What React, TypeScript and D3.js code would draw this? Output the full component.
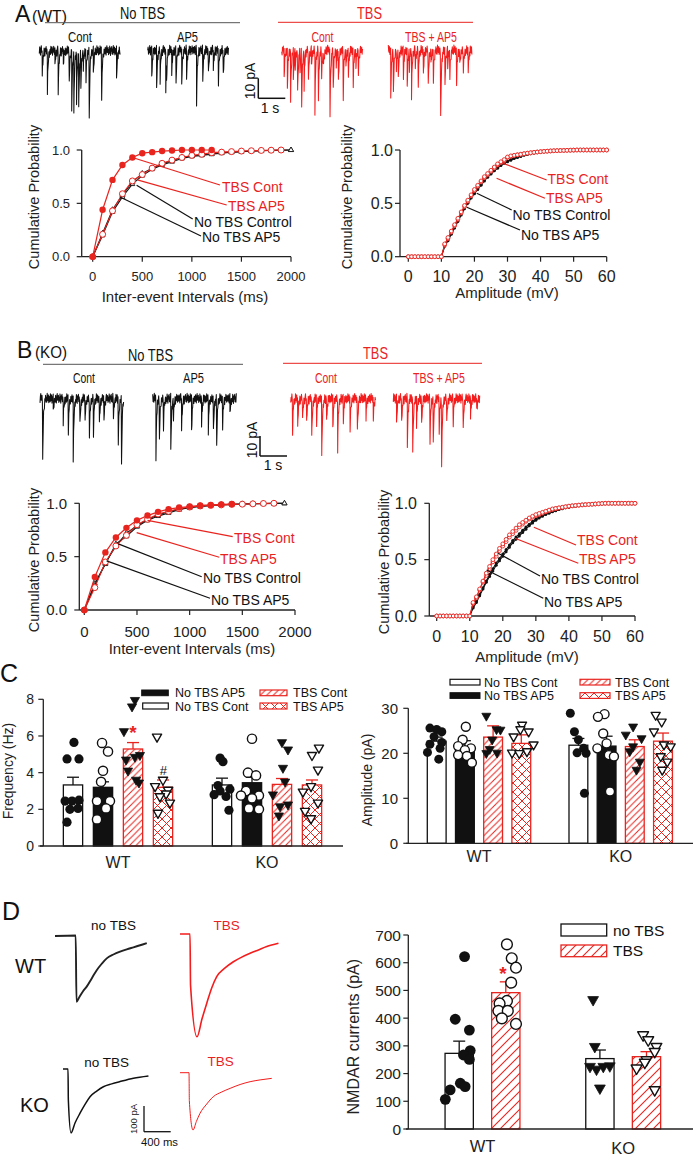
import React from 'react';
import * as d3 from 'd3';

const FONT = '"Liberation Sans", Arial, Helvetica, sans-serif';
const RED = '#e8241f';
const TRACE_RED = '#f41c1c';
const BLACK = '#111111';
const GRAY = '#555555';

// ================= DATA =================
// Spontaneous current traces: events [time (s), amplitude (pA)]
const traceA_NoTbsCont = [[0.11,12.5],[0.30,20],[0.58,8],[0.70,21],[0.89,7.5],[1.11,16],[1.20,30],[1.28,31],[1.38,25],[1.46,29],[1.54,17],[1.63,8],[1.73,15],[1.85,33],[2.00,13],[2.31,22.5],[2.86,16]];
const traceA_NoTbsAP5 = [[0.15,15],[0.33,21],[0.46,15],[0.67,20],[0.70,8],[0.89,13],[1.05,16],[1.26,17.5],[1.44,14],[1.81,27],[2.04,15],[2.25,12.5],[2.43,10],[2.62,16],[2.80,13]];
const traceA_TbsCont = [[0.09,14],[0.21,20],[0.33,25],[0.43,16],[0.50,8],[0.59,22],[0.68,9],[0.74,27],[0.83,18],[0.99,16],[1.10,9],[1.23,30],[1.36,24],[1.48,14],[1.55,8],[1.79,32],[1.91,19],[2.02,9],[2.10,16],[2.28,23],[2.38,8],[2.47,13],[2.65,17],[2.75,8],[2.84,11]];
const traceA_TbsAP5 = [[0.09,25],[0.19,21],[0.30,9],[0.37,15],[0.56,13],[0.70,19],[0.78,8],[0.86,22.5],[1.00,9],[1.11,16],[1.30,12.5],[1.48,18],[1.58,8],[1.67,15],[1.94,35],[2.10,17.5],[2.20,8],[2.28,13],[2.53,16],[2.65,8],[2.78,12.5],[2.96,11]];
const traceB_NoTbsCont = [[0.10,31],[0.49,7.5],[0.86,11.7],[1.05,16],[1.23,33],[1.48,14],[1.67,11.7],[1.83,21],[1.98,17],[2.20,14],[2.37,11],[2.72,9],[2.90,22.5],[3.02,32]];
const traceB_NoTbsAP5 = [[0.12,29],[0.25,21],[0.40,14],[0.67,28],[0.77,9],[1.07,16],[1.44,17.5],[1.81,14],[2.06,16],[2.25,17.5],[2.37,22.5],[2.59,14],[2.86,9]];
const traceB_TbsCont = [[0.07,16],[0.26,15],[0.44,11],[0.59,12.5],[0.78,21],[0.96,11.7],[1.15,31],[1.33,12.5],[1.56,16],[1.74,25],[1.95,11],[2.20,16],[2.47,17.5],[2.79,9],[3.06,10]];
const traceB_TbsAP5 = [[0.12,14],[0.31,12.5],[0.52,24],[0.72,29],[0.86,16],[1.05,14],[1.36,21],[1.48,24],[1.70,16],[1.79,34],[1.98,12.5],[2.22,11.7],[2.59,16],[2.86,10],[3.09,6.7]];
const traceNoise = [1.5,-1.8,0.6,2.3,-1.1,-2.4,1.0,0.2,-1.5,2.1,-0.5,1.4,-2.2,0.8,2.5,-1.3,0.4,-2.0,1.7,-0.7,2.0,-2.5,0.6,1.2,-1.7,2.2,-0.3,-1.0,1.8,-2.3,1.3,0.1,-1.8,2.4,-0.8,0.9,-2.1,0.5,2.0,-1.4,-0.2];

// Cumulative probability: inter-event intervals (ms)
const intervalBins = [0,100,200,300,400,500,600,700,800,900,1000,1100,1200,1300,1400,1500,1600,1700,1800,1900,2000];
const intervalTicks = [0,500,1000,1500,2000];
const probTicks = [0,0.5,1];
const wtInt_TbsCont = [0,0.44,0.72,0.86,0.93,0.97,0.98,0.99,0.995,1,1,1,1];
const wtInt_TbsAP5 = [0,0.21,0.43,0.59,0.71,0.77,0.83,0.875,0.905,0.93,0.95,0.96,0.975,0.98,0.985,0.99,0.993,0.996,0.998,1.0];
const wtInt_NoTbsCtrl = [0,0.2,0.42,0.56,0.68,0.76,0.82,0.86,0.89,0.92,0.94,0.95,0.96,0.97,0.98,0.985,0.99,0.993,0.996,0.998,1.0];
const wtInt_NoTbsAP5 = [0,0.22,0.44,0.58,0.7,0.78,0.83,0.87,0.9,0.93,0.945,0.955,0.965,0.975,0.98,0.985,0.99,0.994,0.997,0.999,1.0];
const koInt_TbsCont = [0,0.31,0.54,0.68,0.77,0.84,0.885,0.92,0.945,0.96,0.97,0.98,0.985,0.99,0.993];
const koInt_TbsAP5 = [0,0.21,0.45,0.6,0.7,0.8,0.85,0.9,0.925,0.95,0.965,0.975,0.98,0.985,0.99,0.992,0.995,0.998,1.0];
const koInt_NoTbsCtrl = [0,0.25,0.43,0.62,0.69,0.78,0.84,0.88,0.91,0.94,0.96,0.97,0.98,0.985,0.99,0.993,0.995,0.997,0.999,1.0];
const koInt_NoTbsAP5 = [0,0.23,0.44,0.6,0.72,0.79,0.85,0.89,0.92,0.945,0.96,0.972,0.98,0.986,0.99,0.994,0.996,0.998,0.999,1.0];

// Cumulative probability: amplitude (mV), one value per 1 mV bin
const ampBins = d3.range(0, 61);
const ampTicks = [0,10,20,30,40,50,60];
const wtAmp_TbsCont = [0,0,0,0,0,0,0,0,0,0,0, 0.12,0.18,0.24,0.30,0.36,0.42,0.48,0.53,0.58,0.63, 0.67,0.71,0.75,0.78,0.81,0.84,0.87,0.89,0.91,0.935, 0.945,0.95,0.955,0.96,0.965,0.97,0.974,0.978,0.981,0.984, 0.987,0.989,0.991,0.993,0.994,0.995,0.996,0.997,0.998,0.999, 1,1,1,1,1,1,1,1,1,1];
const wtAmp_TbsAP5 = [0,0,0,0,0,0,0,0,0,0,0, 0.11,0.17,0.23,0.29,0.35,0.41,0.47,0.52,0.57,0.62, 0.66,0.70,0.74,0.77,0.80,0.83,0.86,0.88,0.90,0.93, 0.94,0.948,0.954,0.96,0.965,0.97,0.974,0.978,0.981,0.984, 0.987,0.989,0.991,0.993,0.994,0.995,0.996,0.997,0.998,0.999, 1,1,1,1,1,1,1,1,1,1];
const wtAmp_NoTbsCtrl = [0,0,0,0,0,0,0,0,0,0,0, 0.1,0.16,0.22,0.28,0.34,0.40,0.46,0.51,0.56,0.60, 0.64,0.68,0.72,0.75,0.78,0.81,0.835,0.86,0.88,0.895, 0.91,0.925,0.935,0.945,0.955,0.962,0.968,0.974,0.978,0.982, 0.985,0.988,0.99,0.992,0.994,0.995,0.996,0.997,0.998,0.999, 1,1,1,1,1,1,1,1,1,1];
const wtAmp_NoTbsAP5 = [0,0,0,0,0,0,0,0,0,0,0, 0.1,0.15,0.21,0.27,0.33,0.39,0.45,0.5,0.55,0.59, 0.63,0.67,0.71,0.745,0.775,0.805,0.83,0.855,0.875,0.89, 0.905,0.92,0.93,0.94,0.95,0.958,0.965,0.971,0.976,0.98, 0.984,0.987,0.99,0.992,0.993,0.995,0.996,0.997,0.998,0.999, 1,1,1,1,1,1,1,1,1,1];
const koAmp_TbsCont = [0,0,0,0,0,0,0,0,0,0,0, 0.12,0.17,0.24,0.31,0.38,0.44,0.5,0.55,0.6,0.64, 0.68,0.72,0.75,0.78,0.81,0.83,0.85,0.87,0.885,0.9, 0.91,0.92,0.93,0.94,0.95,0.955,0.96,0.965,0.97,0.975, 0.978,0.981,0.984,0.986,0.988,0.99,0.992,0.994,0.996,0.998, 1,1,1,1,1,1,1,1,1,1];
const koAmp_TbsAP5 = [0,0,0,0,0,0,0,0,0,0,0, 0.11,0.16,0.23,0.3,0.36,0.42,0.48,0.53,0.58,0.62, 0.66,0.7,0.73,0.76,0.79,0.815,0.84,0.86,0.875,0.89, 0.9,0.912,0.924,0.935,0.945,0.952,0.958,0.963,0.968,0.973, 0.977,0.98,0.983,0.986,0.988,0.99,0.992,0.994,0.996,0.998, 1,1,1,1,1,1,1,1,1,1];
const koAmp_NoTbsCtrl = [0,0,0,0,0,0,0,0,0,0,0, 0.08,0.13,0.19,0.25,0.31,0.37,0.42,0.47,0.51,0.55, 0.59,0.63,0.67,0.7,0.73,0.76,0.79,0.815,0.84,0.86, 0.88,0.895,0.91,0.92,0.93,0.94,0.948,0.955,0.962,0.968, 0.973,0.977,0.981,0.984,0.987,0.99,0.992,0.994,0.996,0.998, 1,1,1,1,1,1,1,1,1,1];
const koAmp_NoTbsAP5 = [0,0,0,0,0,0,0,0,0,0,0, 0.07,0.12,0.18,0.24,0.3,0.35,0.4,0.45,0.49,0.53, 0.57,0.61,0.65,0.68,0.71,0.74,0.77,0.8,0.825,0.85, 0.87,0.885,0.9,0.912,0.924,0.935,0.944,0.952,0.96,0.966, 0.971,0.976,0.98,0.984,0.987,0.99,0.992,0.994,0.996,0.998, 1,1,1,1,1,1,1,1,1,1];
const cumLabels = ['TBS Cont', 'TBS AP5', 'No TBS Control', 'No TBS AP5'];

// Panel C: frequency (Hz) and amplitude (pA)
const groupNames = ['WT', 'KO'];
const condNamesC = ['No TBS Cont', 'No TBS AP5', 'TBS Cont', 'TBS AP5'];
const freqTicks = [0,2,4,6,8];
const freqMeanWT = [3.33, 3.2, 5.29, 3.2];
const freqMeanKO = [3.33, 3.45, 3.36, 3.33];
const freqSemWT = [0.42, 0.3, 0.35, 0.4];
const freqSemKO = [0.37, 0.3, 0.32, 0.27];
const freqWT_NoTbsCont = [5.65,4.75,4.75,2.45,2.45,2.5,2.0,2.05,1.3];
const freqWT_NoTbsCont_jit = [0.05,-0.31,0.31,-0.41,-0.05,0.31,-0.16,0.26,-0.31];
const freqWT_NoTbsAP5 = [5.62,5.15,4.1,3.5,2.45,2.45,2.05,1.45];
const freqWT_NoTbsAP5_jit = [-0.05,0.26,0,-0.1,-0.31,0.36,0.16,-0.31];
const freqWT_TbsCont = [7.95,7.6,6.25,4.95,4.85,4.7,4.1,3.6,3.45];
const freqWT_TbsCont_jit = [0.1,-0.05,-0.47,0.36,0.1,-0.36,-0.26,0.16,0.31];
const freqWT_TbsAP5 = [5.95,3.6,3.25,3.05,2.85,2.7,2.35,1.8];
const freqWT_TbsAP5_jit = [-0.31,0,-0.41,0.26,0.16,-0.16,0.36,-0.26];
const freqKO_NoTbsCont = [4.8,4.6,3.3,3.1,3.0,2.8,2.7,1.95];
const freqKO_NoTbsCont_jit = [-0.1,0.05,-0.21,0.41,-0.1,-0.41,0.21,0.36];
const freqKO_NoTbsAP5 = [5.85,4.0,3.85,3.0,2.75,2.75,2.6,2.05,2.0];
const freqKO_NoTbsAP5_jit = [0,-0.21,0.21,-0.31,-0.57,0.36,0,-0.16,0.36];
const freqKO_TbsCont = [5.65,5.25,4.25,3.5,2.8,2.25,2.15,1.65];
const freqKO_TbsCont_jit = [0,0.31,0.05,0.16,-0.47,0.31,-0.1,-0.16];
const freqKO_TbsAP5 = [5.35,4.95,4.15,3.25,2.95,2.35,1.9,1.5];
const freqKO_TbsAP5_jit = [0.36,0,0.31,-0.05,-0.47,0.31,-0.36,-0.05];

const amplTicks = [0,10,20,30];
const amplMeanWT = [22.7, 21.4, 23.6, 22.2];
const amplMeanKO = [21.8, 21.6, 21.5, 22.7];
const amplSemWT = [0.9, 1.4, 2.5, 1.9];
const amplSemKO = [1.5, 2.2, 1.5, 1.8];
const amplWT_NoTbsCont = [25.6,25.3,24.8,23.7,22.4,22.0,21.1,20.2,18.7];
const amplWT_NoTbsCont_jit = [-0.36,0,0.27,-0.14,0.27,-0.36,0.18,-0.49,0.11];
const amplWT_NoTbsAP5 = [25.9,23.0,21.6,21.1,20.7,19.6,19.4,17.9];
const amplWT_NoTbsAP5_jit = [0.05,-0.12,-0.36,0.32,0,-0.36,0.11,0.37];
const amplWT_TbsCont = [28.3,25.3,25.2,23.0,20.9,20.1,20.0];
const amplWT_TbsCont_jit = [-0.36,0.18,0.39,-0.05,-0.18,0.21,-0.36];
const amplWT_TbsAP5 = [26.3,25.3,24.8,23.7,21.9,20.4,20.1,20.0];
const amplWT_TbsAP5_jit = [0.04,-0.05,0.39,-0.41,0.65,0.3,-0.49,-0.11];
const amplKO_NoTbsCont = [28.9,24.8,23.0,21.1,20.1,20.0,11.1];
const amplKO_NoTbsCont_jit = [-0.43,-0.21,0,0.28,-0.07,0.41,0.32];
const amplKO_NoTbsAP5 = [28.7,28.1,24.4,22.2,21.1,19.6,19.3,11.5];
const amplKO_NoTbsAP5_jit = [-0.11,-0.46,-0.18,0,-0.49,0.12,0.39,0.18];
const amplKO_TbsCont = [25.9,24.1,23.3,21.5,20.4,18.1,16.3];
const amplKO_TbsCont_jit = [-0.09,-0.48,0.36,-0.09,-0.27,0.27,0.09];
const amplKO_TbsAP5 = [28.5,27.0,24.8,21.9,21.5,19.3,18.1,16.3];
const amplKO_TbsAP5_jit = [-0.39,-0.07,-0.48,0.05,0.41,-0.12,0.23,-0.04];

// Panel D: NMDAR currents
const condNamesD = ['no TBS', 'TBS'];
const nmdaTicks = [0,100,200,300,400,500,600,700];
const nmdaMeanWT = [273, 492];
const nmdaMeanKO = [254, 261];
const nmdaSemWT = [44, 39];
const nmdaSemKO = [31, 18];
const nmdaWT_NoTbs = [622,396,357,283,267,251,165,153,141,107];
const nmdaWT_NoTbs_jit = [0.19,-0.14,0.36,0.39,0.15,0.36,0.04,0.21,-0.32,-0.49];
const nmdaWT_Tbs = [666,616,582,528,462,453,426,426,399,379];
const nmdaWT_Tbs_jit = [0.04,0.21,0.36,0.19,0.04,-0.22,-0.26,0.07,-0.14,0.36];
const nmdaKO_NoTbs = [466,297,227,225,225,215,147];
const nmdaKO_NoTbs_jit = [-0.24,-0.18,0.35,-0.35,0.12,-0.12,0];
const nmdaKO_Tbs = [339,321,297,279,249,240,219,141];
const nmdaKO_Tbs_jit = [-0.12,0.06,0.35,0.29,0,-0.06,-0.35,0.29];

// NMDAR current traces: [time (ms), current (pA)]
const nmdaTraceWT_NoTbs = [[0,0],[310,2],[322,-256],[360,-240],[420,-215],[475,-197],[550,-165],[625,-133],[700,-108],[775,-87],[875,-72],[975,-61],[1075,-52],[1175,-44],[1275,-36],[1375,-28]];
const nmdaTraceWT_Tbs = [[0,0],[150,0],[158,-200],[255,-400],[330,-330],[400,-270],[475,-210],[550,-166],[675,-132],[800,-108],[925,-90],[1050,-75],[1175,-62],[1300,-49],[1475,-36]];
const nmdaTraceKO_NoTbs = [[0,0],[75,0],[80,-120],[120,-249],[180,-210],[255,-172],[330,-138],[405,-108],[505,-86],[605,-69],[730,-58],[855,-49],[1055,-36],[1280,-27]];
const nmdaTraceKO_Tbs = [[0,0],[135,0],[140,-110],[195,-223],[245,-190],[300,-158],[400,-122],[500,-93],[625,-75],[750,-61],[900,-46],[1050,-35],[1200,-28],[1375,-22]];

// ================= SCALES FOR TRACES =================
const traceTime = d3.scaleLinear().domain([0, 1]).range([0, 27]);   // 1 s
const traceAmp = d3.scaleLinear().domain([0, 10]).range([0, 20]);   // 10 pA
const dTime = d3.scaleLinear().domain([0, 400]).range([0, 26.7]);   // 400 ms
const dCur = d3.scaleLinear().domain([0, -100]).range([0, 25.7]);   // 100 pA

// ================= HELPERS =================
function Marker({ kind, x, y, r, color = BLACK, sw = 1.3 }: any) {
  if (kind === 'fc') return <circle cx={x} cy={y} r={r} fill={color} />;
  if (kind === 'dot') return <circle cx={x} cy={y} r={r} fill={color} />;
  if (kind === 'oc') return <circle cx={x} cy={y} r={r} fill="#fff" stroke={color} strokeWidth={sw} />;
  if (kind === 'ft' || kind === 'ot') {
    const d = `M${x - r},${y - 0.6 * r}L${x + r},${y - 0.6 * r}L${x},${y + 1.15 * r}Z`;
    return kind === 'ft'
      ? <path d={d} fill={color} stroke={color} strokeWidth={0.8} strokeLinejoin="round" />
      : <path d={d} fill="#fff" stroke={color} strokeWidth={sw} strokeLinejoin="round" />;
  }
  if (kind === 'ut') {
    const d = `M${x - r},${y + 0.6 * r}L${x + r},${y + 0.6 * r}L${x},${y - 1.15 * r}Z`;
    return <path d={d} fill="#fff" stroke={color} strokeWidth={sw} />;
  }
  if (kind === 'os') return <rect x={x - r} y={y - r} width={2 * r} height={2 * r} fill="#fff" stroke={color} strokeWidth={sw} />;
  return null;
}

function CText({ x, y, w, size, fill = BLACK, anchor = 'middle', children }: any) {
  return (
    <text x={x} y={y} fontSize={size} fill={fill} textAnchor={anchor} textLength={w} lengthAdjust="spacingAndGlyphs">{children}</text>
  );
}

function Trace({ events, x0, y0, dur, phase, color }: any) {
  const step = 0.4;
  const total = traceTime(dur);
  const xs: number[] = [];
  for (let x = 0; x <= total + 1e-6; x += step) xs.push(x);
  events.forEach((e: number[]) => xs.push(traceTime(e[0])));
  xs.sort((a, b) => a - b);
  const pts = xs.map((x) => {
    const n = traceNoise[(Math.round(x / step) + phase) % traceNoise.length];
    let dy = traceAmp(n);
    for (const e of events) {
      const d = x - traceTime(e[0]);
      if (d >= 0 && d < 4) dy += traceAmp(e[1]) * Math.exp(-d / 0.7);
    }
    return [x, dy] as [number, number];
  });
  return <path d={d3.line()(pts) || ''} transform={`translate(${x0},${y0})`} fill="none" stroke={color} strokeWidth={1.05} strokeLinejoin="round" />;
}

function NmdaTrace({ pts, x0, y0, color, sw }: any) {
  const line = d3.line<number[]>().x((d) => dTime(d[0])).y((d) => dCur(d[1])).curve(d3.curveMonotoneX);
  return <path d={line(pts) || ''} transform={`translate(${x0},${y0})`} fill="none" stroke={color} strokeWidth={sw} strokeLinejoin="round" />;
}

function CumPlot({ cfg, xDomain, xTicks, series, xTitle }: any) {
  const x = d3.scaleLinear().domain(xDomain).range(cfg.xRange);
  const y = d3.scaleLinear().domain([0, 1]).range(cfg.yRange);
  const line = d3.line<number[]>().x((d) => x(d[0])).y((d) => y(d[1]));
  const colors = [RED, RED, BLACK, BLACK];
  return (
    <g>
      <line x1={cfg.yAxisX} x2={cfg.yAxisX} y1={y(1)} y2={y(0)} stroke="#222" strokeWidth={1.3} />
      <line x1={cfg.yAxisX} x2={x(xDomain[1])} y1={y(0)} y2={y(0)} stroke="#222" strokeWidth={1.3} />
      {probTicks.map((t) => (
        <g key={'y' + t}>
          <line x1={cfg.yAxisX - 5} x2={cfg.yAxisX} y1={y(t)} y2={y(t)} stroke="#222" strokeWidth={1.2} />
          <text x={cfg.yLabX} y={y(t)} dy="0.36em" textAnchor="end" fontSize={cfg.tickFont} fill="#222">{t.toFixed(1)}</text>
        </g>
      ))}
      {xTicks.map((t: number) => (
        <g key={'x' + t}>
          <line x1={x(t)} x2={x(t)} y1={y(0)} y2={y(0) + 5} stroke="#222" strokeWidth={1.2} />
          <text x={x(t)} y={cfg.xLabY} textAnchor="middle" fontSize={cfg.tickFont} fill="#222">{t}</text>
        </g>
      ))}
      {series.map((s: any, si: number) => (
        <g key={si}>
          <path d={line(s.ys.map((v: number, i: number) => [s.xs[i], v])) || ''} fill="none" stroke={s.color} strokeWidth={s.lw} />
          {s.ys.map((v: number, i: number) => (
            <Marker key={i} kind={s.marker} x={x(s.xs[i])} y={y(v)} r={s.r} color={s.color} sw={s.sw} />
          ))}
        </g>
      ))}
      {cumLabels.map((lab, i) => {
        const f = cfg.leaderFrom[i];
        const t = cfg.leaderTo[i];
        const p = cfg.labelPos[i];
        return (
          <g key={lab}>
            <line x1={x(f[0])} y1={y(f[1])} x2={t[0]} y2={t[1]} stroke={colors[i]} strokeWidth={1.2} />
            <text x={p[0]} y={p[1]} dy="0.36em" fontSize={14} fill={colors[i]}>{lab}</text>
          </g>
        );
      })}
      <text x={cfg.xTitleX} y={cfg.xTitleY} textAnchor="middle" fontSize={15} fill="#222">{xTitle}</text>
      <text transform={`translate(${cfg.yTitleX},${cfg.yTitleY}) rotate(-90)`} textAnchor="middle" fontSize={14.5} fill="#222">Cumulative Probability</text>
    </g>
  );
}

function BarChart({ cfg, yDomain, yTicks, conds, means, sems, points, jitters, fills, strokes, markers }: any) {
  const y = d3.scaleLinear().domain(yDomain).range([cfg.yBottom, cfg.yTop]);
  const gx = d3.scalePoint<string>().domain(groupNames).range(cfg.groupCenters);
  const inner = d3.scaleBand<string>().domain(conds).range([-cfg.innerHalf, cfg.innerHalf])
    .paddingInner(cfg.padInner).paddingOuter(cfg.padInner / 2);
  const bw = inner.bandwidth();
  return (
    <g>
      {groupNames.map((g, gi) => (
        <g key={g}>
          {conds.map((c: string, ci: number) => {
            const left = (gx(g) as number) + (inner(c) as number);
            const cx = left + bw / 2;
            const m = means[gi][ci];
            const e = m + sems[gi][ci];
            return (
              <g key={c}>
                <rect x={left} y={y(m)} width={bw} height={y(yDomain[0]) - y(m)} fill={fills[ci]} stroke={strokes[ci]} strokeWidth={1.3} />
                <line x1={cx} x2={cx} y1={y(m)} y2={y(e)} stroke={strokes[ci]} strokeWidth={1.3} />
                <line x1={cx - cfg.capW / 2} x2={cx + cfg.capW / 2} y1={y(e)} y2={y(e)} stroke={strokes[ci]} strokeWidth={1.3} />
              </g>
            );
          })}
        </g>
      ))}
      {groupNames.map((g, gi) => (
        <g key={'p' + g}>
          {conds.map((c: string, ci: number) => {
            const cx = (gx(g) as number) + (inner(c) as number) + bw / 2;
            const kind = Array.isArray(markers[0]) ? markers[gi][ci] : markers[ci];
            return points[gi][ci].map((v: number, i: number) => (
              <Marker key={c + i} kind={kind} x={cx + jitters[gi][ci][i] * bw} y={y(v)} r={cfg.markerR} color={BLACK} sw={1.4} />
            ));
          })}
        </g>
      ))}
      <line x1={cfg.yAxisX} x2={cfg.yAxisX} y1={y(yDomain[1])} y2={y(yDomain[0])} stroke="#222" strokeWidth={1.3} />
      <line x1={cfg.axisStartX} x2={cfg.axisEndX} y1={y(yDomain[0])} y2={y(yDomain[0])} stroke="#222" strokeWidth={1.3} />
      {yTicks.map((t: number) => (
        <g key={t}>
          <line x1={cfg.yAxisX - 5} x2={cfg.yAxisX} y1={y(t)} y2={y(t)} stroke="#222" strokeWidth={1.2} />
          <text x={cfg.tickLabelX} y={y(t)} dy="0.36em" textAnchor="end" fontSize={cfg.tickFont} fill="#222">{t}</text>
        </g>
      ))}
      {groupNames.map((g) => (
        <text key={'l' + g} x={gx(g)} y={cfg.groupLabelY + (g === 'KO' ? cfg.koDy || 0 : 0)} textAnchor="middle" fontSize={cfg.groupFont} fill="#222">{g}</text>
      ))}
      <text transform={`translate(${cfg.yTitleX},${cfg.yTitleY}) rotate(-90)`} textAnchor="middle" fontSize={cfg.yTitleFont} fill="#222">{cfg.yTitle}</text>
    </g>
  );
}

// ================= LAYOUT =================
const A_LEFT = { yAxisX: 81.7, xRange: [92.7, 291], yRange: [256.7, 150], tickFont: 13, yLabX: 70, xLabY: 281.3,
  xTitleX: 185, xTitleY: 302, yTitleX: 38.5, yTitleY: 197,
  leaderFrom: [[400, 0.93], [450, 0.72], [443, 0.67], [275, 0.56]],
  leaderTo: [[220, 185], [226.7, 205], [192.7, 219], [201, 236]],
  labelPos: [[222, 186.7], [228, 206], [194, 221.7], [202, 237.3]] };
const A_RIGHT = { yAxisX: 400, xRange: [408.3, 606.7], yRange: [256.7, 150], tickFont: 16, yLabX: 393, xLabY: 282.3,
  xTitleX: 507, xTitleY: 298, yTitleX: 352, yTitleY: 197,
  leaderFrom: [[28.7, 0.875], [26.7, 0.735], [20.7, 0.594], [17.7, 0.463]],
  leaderTo: [[546.7, 180], [545, 198.3], [511.7, 210], [520, 230]],
  labelPos: [[547.5, 179.3], [546, 198.3], [512.5, 215], [521, 235]] };
const B_LEFT = { yAxisX: 79.3, xRange: [84.3, 295], yRange: [610, 503.3], tickFont: 15, yLabX: 67, xLabY: 637,
  xTitleX: 192, xTitleY: 654, yTitleX: 38.5, yTitleY: 560,
  leaderFrom: [[600, 0.84], [497, 0.725], [323, 0.62], [212, 0.46]],
  leaderTo: [[232.7, 536.7], [219.3, 557.3], [201.7, 576.7], [210, 598.3]],
  labelPos: [[234, 538.3], [220, 559.3], [203, 578.3], [211, 600]] };
const B_RIGHT = { yAxisX: 429.3, xRange: [436.7, 635], yRange: [616, 503.3], tickFont: 16, yLabX: 417, xLabY: 642.3,
  xTitleX: 527, xTitleY: 662, yTitleX: 388.5, yTitleY: 562,
  leaderFrom: [[29.4, 0.787], [23.7, 0.69], [18.6, 0.556], [15.1, 0.408]],
  leaderTo: [[576, 545], [578.3, 563.3], [540, 576], [543.3, 598.3]],
  labelPos: [[577, 540], [579, 559.3], [541, 579.3], [544, 601.7]] };

const C_LEFT = { yAxisX: 43.3, yBottom: 846, yTop: 699.3, axisStartX: 40, axisEndX: 343, groupCenters: [118, 267],
  innerHalf: 60, padInner: 0.357, tickFont: 14, tickLabelX: 34, groupLabelY: 868, groupFont: 16,
  yTitle: 'Frequency (Hz)', yTitleX: 12.5, yTitleY: 771, yTitleFont: 14, capW: 12, markerR: 4.6 };
const C_RIGHT = { yAxisX: 408.3, yBottom: 843.3, yTop: 708.3, axisStartX: 406, axisEndX: 693, groupCenters: [479, 620.7],
  innerHalf: 56.4, padInner: 0.333, tickFont: 15, tickLabelX: 398, groupLabelY: 862, groupFont: 16,
  yTitle: 'Amplitude (pA)', yTitleX: 371.5, yTitleY: 780, yTitleFont: 14, capW: 12, markerR: 4.5 };
const D_RIGHT = { yAxisX: 408.3, yBottom: 1129, yTop: 935, axisStartX: 406, axisEndX: 693, groupCenters: [482.5, 623.2],
  innerHalf: 46.6, padInner: 0.393, tickFont: 15.5, tickLabelX: 401, groupLabelY: 1152, koDy: 1.5, groupFont: 16.5,
  yTitle: 'NMDAR currents (pA)', yTitleX: 359, yTitleY: 1036.7, yTitleFont: 16, capW: 12, markerR: 5.4 };

const fillsC = ['#fff', BLACK, 'url(#hatchC)', 'url(#crossC)'];
const strokesC = [BLACK, BLACK, RED, RED];
const markersC = ['fc', 'oc', 'ft', 'ot'];

export default function App() {
  const intSeries = (ctrl: number[], ap5: number[], tap5: number[], tcont: number[]) => [
    { xs: intervalBins, ys: ctrl, color: BLACK, marker: 'ut', r: 2.4, lw: 1.1, sw: 0.9 },
    { xs: intervalBins, ys: ap5, color: BLACK, marker: 'ut', r: 2.6, lw: 1.1, sw: 0.9 },
    { xs: intervalBins, ys: tap5, color: RED, marker: 'oc', r: 3, lw: 1.1, sw: 1 },
    { xs: intervalBins, ys: tcont, color: RED, marker: 'fc', r: 3.2, lw: 1.2, sw: 1 },
  ];
  const ampSeries = (ctrl: number[], ap5: number[], tap5: number[], tcont: number[]) => [
    { xs: ampBins, ys: ap5, color: BLACK, marker: 'dot', r: 1.5, lw: 1.1, sw: 1 },
    { xs: ampBins, ys: ctrl, color: BLACK, marker: 'dot', r: 1.5, lw: 1.1, sw: 1 },
    { xs: ampBins, ys: tap5, color: RED, marker: 'oc', r: 1.9, lw: 1, sw: 0.9 },
    { xs: ampBins, ys: tcont, color: RED, marker: 'oc', r: 1.9, lw: 1, sw: 0.9 },
  ];

  return (
    <svg width={693} height={1157} style={{ position: 'absolute', left: 0, top: 0, background: '#fff' }} fontFamily={FONT}>
      <defs>
        <pattern id="hatchC" patternUnits="userSpaceOnUse" width="6.5" height="6.5">
          <path d="M0,6.5 L6.5,0 M-1,1 L1,-1 M5.5,7.5 L7.5,5.5" stroke={RED} strokeWidth="1" />
        </pattern>
        <pattern id="crossC" patternUnits="userSpaceOnUse" width="9" height="9">
          <path d="M0,9 L9,0 M-1,1 L1,-1 M8,10 L10,8 M0,0 L9,9 M-1,8 L1,10 M8,-1 L10,1" stroke={RED} strokeWidth="1" />
        </pattern>
        <pattern id="hatchD" patternUnits="userSpaceOnUse" width="9" height="9">
          <path d="M0,9 L9,0 M-1,1 L1,-1 M8,10 L10,8" stroke={RED} strokeWidth="1.1" />
        </pattern>
      </defs>
      <rect x={0} y={0} width={693} height={1157} fill="#fff" />

      {/* ---------- Panel A ---------- */}
      <text x={15} y={21.7} fontSize={23} fill={BLACK}>A</text>
      <CText x={32} y={21.5} w={35} size={17} anchor="start">(WT)</CText>
      <CText x={142.5} y={18.5} w={45} size={17}>No TBS</CText>
      <line x1={45} x2={240} y1={22.7} y2={22.7} stroke={GRAY} strokeWidth={1} />
      <CText x={369.5} y={18.5} w={25} size={17} fill={RED}>TBS</CText>
      <line x1={278} x2={473} y1={22.3} y2={22.3} stroke={RED} strokeWidth={1} />
      <CText x={80} y={41.5} w={24} size={14.5}>Cont</CText>
      <CText x={187.5} y={41.5} w={21} size={14.5}>AP5</CText>
      <CText x={322.5} y={41.5} w={22} size={14.5} fill={RED}>Cont</CText>
      <CText x={431} y={41.5} w={52} size={14.5} fill={RED}>TBS + AP5</CText>
      <Trace events={traceA_NoTbsCont} x0={39.3} y0={50.5} dur={3.0} phase={0} color={BLACK} />
      <Trace events={traceA_NoTbsAP5} x0={147.7} y0={50} dur={3.0} phase={7} color={BLACK} />
      <Trace events={traceA_TbsCont} x0={281.7} y0={50} dur={3.0} phase={13} color={TRACE_RED} />
      <Trace events={traceA_TbsAP5} x0={388.3} y0={50} dur={3.1} phase={21} color={TRACE_RED} />
      <g transform="translate(258.3,98.3)">
        <line x1={0} x2={0} y1={0} y2={-traceAmp(10)} stroke={BLACK} strokeWidth={1.5} />
        <line x1={0} x2={traceTime(1)} y1={0} y2={0} stroke={BLACK} strokeWidth={1.5} />
      </g>
      <text transform="translate(254.5,81) rotate(-90)" textAnchor="middle" fontSize={14} fill={BLACK}>10 pA</text>
      <text x={270} y={113} textAnchor="middle" fontSize={14} fill={BLACK}>1 s</text>

      <CumPlot cfg={A_LEFT} xDomain={[0, 2000]} xTicks={intervalTicks} xTitle="Inter-event Intervals (ms)"
        series={intSeries(wtInt_NoTbsCtrl, wtInt_NoTbsAP5, wtInt_TbsAP5, wtInt_TbsCont)} />
      <CumPlot cfg={A_RIGHT} xDomain={[0, 60]} xTicks={ampTicks} xTitle="Amplitude (mV)"
        series={ampSeries(wtAmp_NoTbsCtrl, wtAmp_NoTbsAP5, wtAmp_TbsAP5, wtAmp_TbsCont)} />

      {/* ---------- Panel B ---------- */}
      <text x={17} y={358} fontSize={23} fill={BLACK}>B</text>
      <CText x={35} y={357.5} w={32} size={17} anchor="start">(KO)</CText>
      <CText x={150.5} y={360.5} w={45} size={17}>No TBS</CText>
      <line x1={43} x2={243} y1={364.3} y2={364.3} stroke={GRAY} strokeWidth={1} />
      <CText x={375.5} y={359} w={25} size={17} fill={RED}>TBS</CText>
      <line x1={283} x2={482} y1={363.3} y2={363.3} stroke={RED} strokeWidth={1} />
      <CText x={84} y={383.3} w={22} size={14.5}>Cont</CText>
      <CText x={193.5} y={383.3} w={21} size={14.5}>AP5</CText>
      <CText x={326} y={383.3} w={22} size={14.5} fill={RED}>Cont</CText>
      <CText x={439} y={383.3} w={52} size={14.5} fill={RED}>TBS + AP5</CText>
      <Trace events={traceB_NoTbsCont} x0={40} y0={398.3} dur={3.1} phase={3} color={BLACK} />
      <Trace events={traceB_NoTbsAP5} x0={152.7} y0={398.3} dur={3.1} phase={17} color={BLACK} />
      <Trace events={traceB_TbsCont} x0={290.7} y0={398.3} dur={3.15} phase={9} color={TRACE_RED} />
      <Trace events={traceB_TbsAP5} x0={393.3} y0={398.3} dur={3.2} phase={28} color={TRACE_RED} />
      <g transform="translate(260,456)">
        <line x1={0} x2={0} y1={0} y2={-traceAmp(10)} stroke={BLACK} strokeWidth={1.5} />
        <line x1={0} x2={traceTime(1)} y1={0} y2={0} stroke={BLACK} strokeWidth={1.5} />
      </g>
      <text transform="translate(256.5,440) rotate(-90)" textAnchor="middle" fontSize={14} fill={BLACK}>10 pA</text>
      <text x={273} y={470} textAnchor="middle" fontSize={14} fill={BLACK}>1 s</text>

      <CumPlot cfg={B_LEFT} xDomain={[0, 2000]} xTicks={intervalTicks} xTitle="Inter-event Intervals (ms)"
        series={intSeries(koInt_NoTbsCtrl, koInt_NoTbsAP5, koInt_TbsAP5, koInt_TbsCont)} />
      <CumPlot cfg={B_RIGHT} xDomain={[0, 60]} xTicks={ampTicks} xTitle="Amplitude (mV)"
        series={ampSeries(koAmp_NoTbsCtrl, koAmp_NoTbsAP5, koAmp_TbsAP5, koAmp_TbsCont)} />

      {/* ---------- Panel C ---------- */}
      <text x={0} y={682} fontSize={25} fill={BLACK}>C</text>
      <BarChart cfg={C_LEFT} yDomain={[0, 8]} yTicks={freqTicks} conds={condNamesC}
        means={[freqMeanWT, freqMeanKO]} sems={[freqSemWT, freqSemKO]}
        points={[[freqWT_NoTbsCont, freqWT_NoTbsAP5, freqWT_TbsCont, freqWT_TbsAP5], [freqKO_NoTbsCont, freqKO_NoTbsAP5, freqKO_TbsCont, freqKO_TbsAP5]]}
        jitters={[[freqWT_NoTbsCont_jit, freqWT_NoTbsAP5_jit, freqWT_TbsCont_jit, freqWT_TbsAP5_jit], [freqKO_NoTbsCont_jit, freqKO_NoTbsAP5_jit, freqKO_TbsCont_jit, freqKO_TbsAP5_jit]]}
        fills={fillsC} strokes={strokesC} markers={markersC} />
      <text x={133} y={739} textAnchor="middle" fontSize={19} fontWeight="bold" fill={RED}>*</text>
      <text x={163.3} y={774.5} textAnchor="middle" fontSize={13} fill={BLACK}>#</text>
      {/* legend C left */}
      <rect x={141.7} y={690} width={26.6} height={5.7} fill={BLACK} stroke={BLACK} strokeWidth={1} />
      <text x={175} y={697} fontSize={12.5} fill={BLACK}>No TBS AP5</text>
      <rect x={142.7} y={703} width={25.6} height={6} fill="#fff" stroke={BLACK} strokeWidth={1.2} />
      <text x={175} y={711} fontSize={12.5} fill={BLACK}>No TBS Cont</text>
      <rect x={260} y={690} width={27} height={5.7} fill="url(#hatchC)" stroke={RED} strokeWidth={1.2} />
      <text x={293} y={697} fontSize={12.5} fill={BLACK}>TBS Cont</text>
      <rect x={260} y={703} width={27} height={6} fill="url(#crossC)" stroke={RED} strokeWidth={1.2} />
      <text x={293} y={711} fontSize={12.5} fill={BLACK}>TBS AP5</text>

      <BarChart cfg={C_RIGHT} yDomain={[0, 30]} yTicks={amplTicks} conds={condNamesC}
        means={[amplMeanWT, amplMeanKO]} sems={[amplSemWT, amplSemKO]}
        points={[[amplWT_NoTbsCont, amplWT_NoTbsAP5, amplWT_TbsCont, amplWT_TbsAP5], [amplKO_NoTbsCont, amplKO_NoTbsAP5, amplKO_TbsCont, amplKO_TbsAP5]]}
        jitters={[[amplWT_NoTbsCont_jit, amplWT_NoTbsAP5_jit, amplWT_TbsCont_jit, amplWT_TbsAP5_jit], [amplKO_NoTbsCont_jit, amplKO_NoTbsAP5_jit, amplKO_TbsCont_jit, amplKO_TbsAP5_jit]]}
        fills={fillsC} strokes={strokesC} markers={markersC} />
      {/* legend C right */}
      <rect x={450} y={679.3} width={30} height={5.7} fill="#fff" stroke={BLACK} strokeWidth={1.2} />
      <text x={484} y={686.5} fontSize={12.5} fill={BLACK}>No TBS Cont</text>
      <rect x={450} y={692.7} width={30} height={5.7} fill={BLACK} stroke={BLACK} strokeWidth={1} />
      <text x={484} y={700} fontSize={12.5} fill={BLACK}>No TBS AP5</text>
      <rect x={580} y={679.3} width={30} height={5.7} fill="url(#hatchC)" stroke={RED} strokeWidth={1.2} />
      <text x={615} y={686.5} fontSize={12.5} fill={BLACK}>TBS Cont</text>
      <rect x={580} y={692.7} width={30} height={5.7} fill="url(#crossC)" stroke={RED} strokeWidth={1.2} />
      <text x={615} y={700} fontSize={12.5} fill={BLACK}>TBS AP5</text>

      {/* ---------- Panel D ---------- */}
      <text x={2} y={920} fontSize={25} fill={BLACK}>D</text>
      <text x={15} y={973} fontSize={20} fill={BLACK}>WT</text>
      <text x={20} y={1112} fontSize={20} fill={BLACK}>KO</text>
      <text x={113.5} y={930} textAnchor="middle" fontSize={13.5} fill={BLACK}>no TBS</text>
      <text x={226.7} y={930} textAnchor="middle" fontSize={13.5} fill={RED}>TBS</text>
      <text x={106.7} y={1067} textAnchor="middle" fontSize={13.5} fill={BLACK}>no TBS</text>
      <text x={220.7} y={1065.5} textAnchor="middle" fontSize={13.5} fill={RED}>TBS</text>
      <NmdaTrace pts={nmdaTraceWT_NoTbs} x0={55} y0={936} color="#222" sw={1.9} />
      <NmdaTrace pts={nmdaTraceWT_Tbs} x0={180} y0={934} color={TRACE_RED} sw={1.6} />
      <NmdaTrace pts={nmdaTraceKO_NoTbs} x0={63} y0={1069} color={BLACK} sw={1.5} />
      <NmdaTrace pts={nmdaTraceKO_Tbs} x0={180} y0={1072.7} color={TRACE_RED} sw={1} />
      <g transform="translate(144,1131.7)">
        <line x1={0} x2={0} y1={0} y2={-dCur(-100)} stroke={BLACK} strokeWidth={1.3} />
        <line x1={0} x2={dTime(400)} y1={0} y2={0} stroke={BLACK} strokeWidth={1.3} />
      </g>
      <text transform="translate(136.5,1119) rotate(-90)" textAnchor="middle" fontSize={9.5} fill={BLACK}>100 pA</text>
      <CText x={159.5} y={1146} w={37} size={11}>400 ms</CText>

      <BarChart cfg={D_RIGHT} yDomain={[0, 700]} yTicks={nmdaTicks} conds={condNamesD}
        means={[nmdaMeanWT, nmdaMeanKO]} sems={[nmdaSemWT, nmdaSemKO]}
        points={[[nmdaWT_NoTbs, nmdaWT_Tbs], [nmdaKO_NoTbs, nmdaKO_Tbs]]}
        jitters={[[nmdaWT_NoTbs_jit, nmdaWT_Tbs_jit], [nmdaKO_NoTbs_jit, nmdaKO_Tbs_jit]]}
        fills={['#fff', 'url(#hatchD)']} strokes={[BLACK, RED]} markers={[['fc', 'oc'], ['ft', 'ot']]} />
      <text x={503} y={980} textAnchor="middle" fontSize={19} fontWeight="bold" fill={RED}>*</text>
      <rect x={561} y={924} width={45.7} height={12} fill="#fff" stroke={BLACK} strokeWidth={1.3} />
      <text x={613} y={935.5} fontSize={15.5} fill={BLACK}>no TBS</text>
      <rect x={561} y={945} width={45.7} height={11.7} fill="url(#hatchD)" stroke={RED} strokeWidth={1.3} />
      <text x={613} y={956} fontSize={15.5} fill={BLACK}>TBS</text>
    </svg>
  );
}
